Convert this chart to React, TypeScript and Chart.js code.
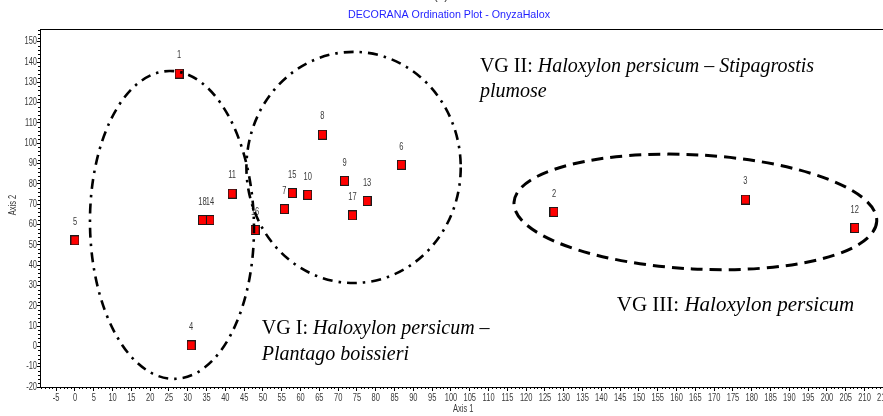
import React, { useEffect, useRef } from "react";
import { Chart, registerables } from "chart.js";
Chart.register(...registerables);

// ---- data ----
const sampleIds = ["1", "2", "3", "4", "5", "6", "7", "8", "9", "10", "11", "12", "13", "14", "15", "16", "17", "18"];
const axis1Values = [27.7, 127.4, 178.3, 30.9, 0, 86.8, 55.7, 65.8, 71.7, 61.9, 41.8, 207.4, 77.7, 35.9, 57.8, 47.9, 73.8, 33.9];
const axis2Values = [134.3, 66.2, 72.3, 0.5, 52.2, 89.4, 67.6, 104.2, 81.5, 74.6, 75.2, 58.3, 71.6, 62.2, 75.5, 57.3, 64.5, 62.2];

// group ellipses (data units)
const groupNames = ["VG I", "VG II", "VG III"];
const ellipseCx = [25.8, 74.1, 165.0];
const ellipseCy = [59.8, 88.1, 66.2];
const ellipseRx = [21.8, 28.5, 48.3];
const ellipseRy = [75.8, 56.9, 28.1];
const ellipseRotDeg = [-1, 0, 3];
const ellipseDashed = [false, false, true];

// group captions, anchored at data coords
const captionX = [49.7, 107.7, 144.1];
const captionY1 = [6.1, 135.0, 17.4];
const captionY2 = [-6.7, 122.6, null as number | null];
const captionSize = [20, 20, 21];
const captionLine1Italic = ["Haloxylon persicum \u2013", "Haloxylon persicum \u2013 Stipagrostis", "Haloxylon persicum"];
const captionLine2 = ["Plantago boissieri", "plumose", ""];

const xMin = -9.3;
const xMax = 219;
const yMin = -20;
const yMax = 156.25;
const xStep = 5;
const yStep = 10;

const titleText = "DECORANA Ordination Plot - OnyzaHalox";
const xTitle = "Axis 1";
const yTitle = "Axis 2";

const CW = 920;
const CH = 416;
const SANS = '"Liberation Sans", Arial, sans-serif';
const SERIF = '"Liberation Serif", "Times New Roman", serif';
const SMALL_FONT = `10px ${SANS}`;
const NARROW = 0.75; // horizontal condensing of the small labels
const SMALL_COLOR = "#3a3a3a";

function makeMarker(): HTMLCanvasElement {
  const c = document.createElement("canvas");
  c.width = 9;
  c.height = 10;
  const g = c.getContext("2d")!;
  g.fillStyle = "#1a1a1a";
  g.fillRect(0, 0, 9, 10);
  g.fillStyle = "#ff0000";
  g.fillRect(1, 1, 7, 8);
  return c;
}

function narrowText(ctx: CanvasRenderingContext2D, text: string, x: number, y: number) {
  ctx.save();
  ctx.translate(x, y);
  ctx.scale(NARROW, 1);
  ctx.fillText(text, 0, 0);
  ctx.restore();
}

const overlayPlugin = {
  id: "overlay",
  afterDraw(chart: any) {
    const { ctx, chartArea } = chart;
    const xs = chart.scales.x;
    const ys = chart.scales.y;
    ctx.save();
    // top frame line
    ctx.strokeStyle = "#000";
    ctx.lineWidth = 1;
    ctx.setLineDash([]);
    ctx.beginPath();
    ctx.moveTo(chartArea.left, chartArea.top + 0.5);
    ctx.lineTo(CW, chartArea.top + 0.5);
    ctx.stroke();

    // minor ticks
    ctx.beginPath();
    for (let v = Math.ceil(xMin); v <= xMax; v++) {
      if (v % xStep === 0) continue;
      const px = Math.round(xs.getPixelForValue(v)) + 0.5;
      ctx.moveTo(px, chartArea.bottom);
      ctx.lineTo(px, chartArea.bottom + 2);
    }
    for (let v = yMin; v <= yMax; v += 2) {
      if (v % yStep === 0) continue;
      const py = Math.round(ys.getPixelForValue(v)) + 0.5;
      ctx.moveTo(chartArea.left, py);
      ctx.lineTo(chartArea.left - 2, py);
    }
    ctx.stroke();

    // tick labels (from the scales' own ticks)
    ctx.font = SMALL_FONT;
    ctx.fillStyle = SMALL_COLOR;
    ctx.textAlign = "center";
    ctx.textBaseline = "middle";
    xs.ticks.forEach((t: any) => {
      narrowText(ctx, String(t.value), xs.getPixelForValue(t.value), chartArea.bottom + 11);
    });
    ctx.textAlign = "right";
    ys.ticks.forEach((t: any) => {
      narrowText(ctx, String(t.value), chartArea.left - 3, ys.getPixelForValue(t.value));
    });

    // point labels
    const meta = chart.getDatasetMeta(0);
    ctx.textAlign = "center";
    meta.data.forEach((el: any, i: number) => {
      narrowText(ctx, sampleIds[i], el.x, el.y - 18);
    });

    // ellipses
    ctx.strokeStyle = "#000";
    ctx.lineCap = "butt";
    groupNames.forEach((_, i) => {
      const cx = xs.getPixelForValue(ellipseCx[i]);
      const cy = ys.getPixelForValue(ellipseCy[i]);
      const rx = Math.abs(xs.getPixelForValue(ellipseCx[i] + ellipseRx[i]) - cx);
      const ry = Math.abs(ys.getPixelForValue(ellipseCy[i] + ellipseRy[i]) - cy);
      ctx.lineWidth = ellipseDashed[i] ? 3 : 2.6;
      ctx.setLineDash(ellipseDashed[i] ? [12, 7] : [10, 6, 2.5, 6]);
      ctx.beginPath();
      ctx.ellipse(cx, cy, rx, ry, (ellipseRotDeg[i] * Math.PI) / 180, 0, Math.PI * 2);
      ctx.stroke();
    });
    ctx.setLineDash([]);

    // captions
    ctx.fillStyle = "#000";
    ctx.textAlign = "left";
    ctx.textBaseline = "alphabetic";
    groupNames.forEach((name, i) => {
      const x0 = xs.getPixelForValue(captionX[i]);
      const y1 = ys.getPixelForValue(captionY1[i]);
      const fs = captionSize[i];
      ctx.font = `${fs}px ${SERIF}`;
      const plain = name + ": ";
      ctx.fillText(plain, x0, y1);
      const w = ctx.measureText(plain).width;
      ctx.font = `italic ${fs}px ${SERIF}`;
      ctx.fillText(captionLine1Italic[i], x0 + w, y1);
      const y2v = captionY2[i];
      if (y2v !== null && captionLine2[i]) {
        ctx.fillText(captionLine2[i], x0, ys.getPixelForValue(y2v));
      }
    });

    // title
    ctx.font = `10.7px ${SANS}`;
    ctx.fillStyle = "#1f1fff";
    ctx.textAlign = "center";
    ctx.textBaseline = "middle";
    ctx.fillText(titleText, 449, 15);
    ctx.fillStyle = "#333";
    ctx.font = `12px ${SANS}`;
    ctx.textBaseline = "alphabetic";
    ctx.fillText("(a)", 441, -1);

    // axis titles
    ctx.font = SMALL_FONT;
    ctx.fillStyle = SMALL_COLOR;
    ctx.textAlign = "left";
    ctx.textBaseline = "middle";
    narrowText(ctx, xTitle, 453, 409);
    ctx.save();
    ctx.translate(13, 205);
    ctx.rotate(-Math.PI / 2);
    ctx.textAlign = "center";
    narrowText(ctx, yTitle, 0, 0);
    ctx.restore();

    ctx.restore();
  },
};

export default function App() {
  const ref = useRef<HTMLCanvasElement | null>(null);
  useEffect(() => {
    document.body.style.margin = "0";
    document.body.style.overflow = "hidden";
    if (!ref.current) return;
    const rightPx = 40 + (xMax - xMin) * 3.76;
    const chart = new Chart(ref.current, {
      type: "scatter",
      data: {
        datasets: [
          {
            label: "Samples",
            data: axis1Values.map((v, i) => ({ x: v, y: axis2Values[i] })),
            pointStyle: makeMarker() as any,
            pointRadius: 5,
            pointHoverRadius: 5,
          },
        ],
      },
      options: {
        animation: false,
        responsive: false,
        devicePixelRatio: 1,
        layout: { padding: { top: 29, right: CW - rightPx, left: 0, bottom: 0 } },
        plugins: { legend: { display: false }, tooltip: { enabled: false }, title: { display: false } },
        scales: {
          x: {
            type: "linear",
            min: xMin,
            max: xMax,
            afterFit: (s: any) => {
              s.height = 29;
            },
            ticks: {
              stepSize: xStep,
              includeBounds: false,
              autoSkip: false,
              maxRotation: 0,
              display: false,
            },
            grid: { drawOnChartArea: false, drawTicks: true, tickLength: 4, color: "#000" },
            border: { display: true, color: "#000", width: 1 },
          },
          y: {
            type: "linear",
            min: yMin,
            max: yMax,
            afterFit: (s: any) => {
              s.width = 40;
            },
            ticks: {
              stepSize: yStep,
              includeBounds: false,
              autoSkip: false,
              display: false,
            },
            grid: { drawOnChartArea: false, drawTicks: true, tickLength: 3, color: "#000" },
            border: { display: true, color: "#000", width: 1 },
          },
        },
      },
      plugins: [overlayPlugin],
    });
    return () => chart.destroy();
  }, []);
  return (
    <div style={{ width: 883, height: CH, overflow: "hidden", position: "relative" }}>
      <canvas ref={ref} width={CW} height={CH} style={{ width: CW, height: CH, display: "block" }} />
    </div>
  );
}
